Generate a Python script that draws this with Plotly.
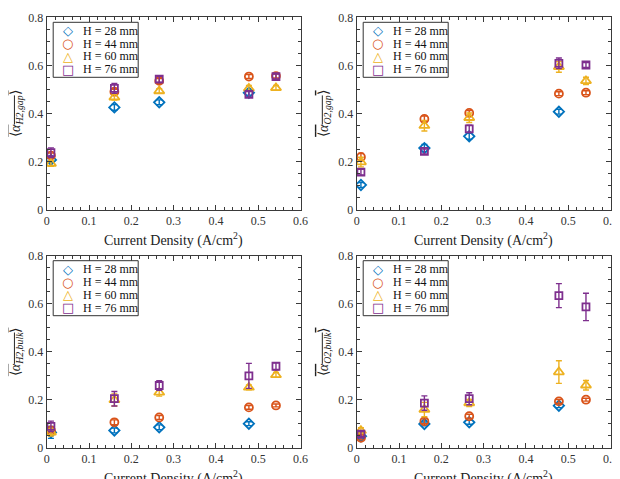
import plotly.graph_objects as go

# ---------------- data ----------------
x_all = [0.01, 0.16, 0.266, 0.478, 0.542]
x_28 = [0.01, 0.16, 0.266, 0.478]

series_names = ["H = 28 mm", "H = 44 mm", "H = 60 mm", "H = 76 mm"]

# Panel 1: <alpha_H2,gap>
h2gap_28 = [0.208, 0.426, 0.447, 0.487]
h2gap_44 = [0.226, 0.491, 0.536, 0.554, 0.556]
h2gap_60 = [0.193, 0.468, 0.494, 0.505, 0.507]
h2gap_76 = [0.238, 0.505, 0.543, 0.480, 0.554]
h2gap_28_err = [0.010, 0.012, 0.010, 0.010]
h2gap_44_err = [0.010, 0.010, 0.010, 0.008, 0.008]
h2gap_60_err = [0.012, 0.012, 0.010, 0.012, 0.010]
h2gap_76_err = [0.020, 0.020, 0.012, 0.012, 0.010]

# Panel 2: <alpha_O2,gap>
o2gap_28 = [0.104, 0.257, 0.306, 0.408]
o2gap_44 = [0.220, 0.378, 0.403, 0.483, 0.487]
o2gap_60 = [0.199, 0.350, 0.383, 0.594, 0.536]
o2gap_76 = [0.157, 0.243, 0.337, 0.609, 0.602]
o2gap_28_err = [0.010, 0.015, 0.012, 0.010]
o2gap_44_err = [0.015, 0.012, 0.010, 0.008, 0.008]
o2gap_60_err = [0.020, 0.022, 0.020, 0.022, 0.015]
o2gap_76_err = [0.012, 0.010, 0.015, 0.022, 0.010]

# Panel 3: <alpha_H2,bulk>
h2bulk_28 = [0.065, 0.073, 0.086, 0.101]
h2bulk_44 = [0.073, 0.107, 0.127, 0.169, 0.177]
h2bulk_60 = [0.065, 0.200, 0.231, 0.252, 0.304]
h2bulk_76 = [0.090, 0.205, 0.260, 0.300, 0.340]
h2bulk_28_err = [0.025, 0.010, 0.010, 0.008]
h2bulk_44_err = [0.008, 0.010, 0.008, 0.008, 0.006]
h2bulk_60_err = [0.015, 0.025, 0.015, 0.010, 0.010]
h2bulk_76_err = [0.022, 0.030, 0.020, 0.052, 0.015]

# Panel 4: <alpha_O2,bulk>
o2bulk_28 = [0.049, 0.100, 0.107, 0.176]
o2bulk_44 = [0.042, 0.111, 0.132, 0.194, 0.201]
o2bulk_60 = [0.072, 0.160, 0.187, 0.316, 0.261]
o2bulk_76 = [0.058, 0.187, 0.205, 0.634, 0.587]
o2bulk_28_err = [0.008, 0.008, 0.008, 0.008]
o2bulk_44_err = [0.008, 0.010, 0.008, 0.008, 0.006]
o2bulk_60_err = [0.012, 0.030, 0.015, 0.047, 0.020]
o2bulk_76_err = [0.010, 0.030, 0.025, 0.050, 0.057]

x_ticks = [0, 0.1, 0.2, 0.3, 0.4, 0.5, 0.6]
x_tick_labels = ["0", "0.1", "0.2", "0.3", "0.4", "0.5", "0.6"]
y_ticks = [0, 0.2, 0.4, 0.6, 0.8]
y_tick_labels = ["0", "0.2", "0.4", "0.6", "0.8"]

x_title = "Current Density (A/cm<sup>2</sup>)"
y_subscripts = ["H2,gap", "O2,gap", "H2,bulk", "O2,bulk"]

panels = [
    ([h2gap_28, h2gap_44, h2gap_60, h2gap_76], [h2gap_28_err, h2gap_44_err, h2gap_60_err, h2gap_76_err]),
    ([o2gap_28, o2gap_44, o2gap_60, o2gap_76], [o2gap_28_err, o2gap_44_err, o2gap_60_err, o2gap_76_err]),
    ([h2bulk_28, h2bulk_44, h2bulk_60, h2bulk_76], [h2bulk_28_err, h2bulk_44_err, h2bulk_60_err, h2bulk_76_err]),
    ([o2bulk_28, o2bulk_44, o2bulk_60, o2bulk_76], [o2bulk_28_err, o2bulk_44_err, o2bulk_60_err, o2bulk_76_err]),
]

# ---------------- styles ----------------
colors = ["#0072BD", "#D95319", "#EDB120", "#7E2F8E"]
symbols = ["diamond-open", "circle-open", "triangle-up-open", "square-open"]
legend_glyphs = ["\u25c7", "\u25cb", "\u25b3", "\u25a1"]
sizes = [8, 8, 9, 7]
FONT = "Liberation Serif"
AXC = "#3a3a3a"

OFF = 8  # default page body margin
W, H = 620 - OFF, 479 - OFF
px_left = [46.7 - OFF, 356.7 - OFF]
px_right = [300.5 - OFF, 610.5 - OFF]
px_top = [17.3 - OFF, 255.7 - OFF]
px_bot = [210.0 - OFF, 448.0 - OFF]
xdom = [[px_left[c] / W, px_right[c] / W] for c in range(2)]
ydom = [[1 - px_bot[r] / H, 1 - px_top[r] / H] for r in range(2)]

fig = go.Figure()

for p, (ys, errs) in enumerate(panels):
    ax = "" if p == 0 else str(p + 1)
    for s in range(4):
        xs = x_28 if s == 0 else x_all
        fig.add_trace(go.Scatter(
            x=xs, y=ys[s], mode="markers", name=series_names[s],
            xaxis="x" + ax, yaxis="y" + ax, showlegend=False,
            marker=dict(symbol=symbols[s], size=sizes[s], color=colors[s],
                        line=dict(width=1.8, color=colors[s])),
            error_y=dict(type="data", array=errs[s], visible=True,
                         color=colors[s], thickness=1.4, width=3),
        ))

layout = dict(
    width=W, height=H, margin=dict(l=0, r=0, t=0, b=0),
    paper_bgcolor="white", plot_bgcolor="white",
    font=dict(family=FONT, color="#262626", size=12),
    showlegend=False,
)

shapes = []
annotations = []

for p in range(4):
    col = p % 2
    row = p // 2
    ax = "" if p == 0 else str(p + 1)
    layout["xaxis" + ax] = dict(
        domain=xdom[col], anchor="y" + ax, range=[0, 0.6], automargin=False,
        tickvals=x_ticks, ticktext=x_tick_labels,
        ticks="inside", ticklen=5, tickcolor=AXC, tickwidth=1,
        minor=dict(dtick=0.02, ticks="inside", ticklen=3, tickcolor=AXC, tickwidth=1, showgrid=False),
        showline=True, linecolor=AXC, linewidth=1, mirror="ticks",
        showgrid=False, zeroline=False,
        tickfont=dict(family=FONT, size=12, color="#333"),
    )
    yt = ("<span style=\"text-decoration:overline\">\u27e8<i>\u03b1</i><sub><i>" +
          y_subscripts[p] + "</i></sub>\u27e9</span>")
    layout["yaxis" + ax] = dict(
        domain=ydom[row], anchor="x" + ax, range=[0, 0.8], automargin=False,
        tickvals=y_ticks, ticktext=y_tick_labels,
        ticks="inside", ticklen=5, tickcolor=AXC, tickwidth=1,
        minor=dict(dtick=0.05, ticks="inside", ticklen=3, tickcolor=AXC, tickwidth=1, showgrid=False),
        showline=True, linecolor=AXC, linewidth=1, mirror="ticks",
        showgrid=False, zeroline=False,
        tickfont=dict(family=FONT, size=12, color="#333"),
        title=dict(text=yt, font=dict(family=FONT, size=14, color="#222"), standoff=6),
    )
    L = px_left[col]
    R = px_right[col]
    T = px_top[row]
    B = px_bot[row]
    # x-axis title
    annotations.append(dict(xref="paper", yref="paper", x=(L + R) / 2 / W, y=1 - (B + 18) / H,
                            text=x_title, showarrow=False, xanchor="center", yanchor="top",
                            font=dict(family=FONT, size=14, color="#222")))
    # legend box drawn as shape + text entries
    shapes.append(dict(type="rect", xref="paper", yref="paper",
                       x0=(L + 6.5) / W, x1=(L + 91.5) / W,
                       y0=1 - (T + 60) / H, y1=1 - (T + 5) / H,
                       line=dict(color="#333", width=1), fillcolor="white", layer="above"))
    for s in range(4):
        yc = 1 - (T + 13.5 + 12.8 * s) / H
        annotations.append(dict(xref="paper", yref="paper", x=(L + 21) / W, y=yc,
                                text=legend_glyphs[s], showarrow=False, xanchor="center", yanchor="middle",
                                font=dict(family="DejaVu Sans", size=13, color=colors[s], weight="bold")))
        annotations.append(dict(xref="paper", yref="paper", x=(L + 34) / W, y=yc,
                                text=series_names[s], showarrow=False, xanchor="left", yanchor="middle",
                                font=dict(family=FONT, size=12, color="#111")))

layout["shapes"] = shapes
layout["annotations"] = annotations
fig.update_layout(**layout)
fig.write_html("out.html")
